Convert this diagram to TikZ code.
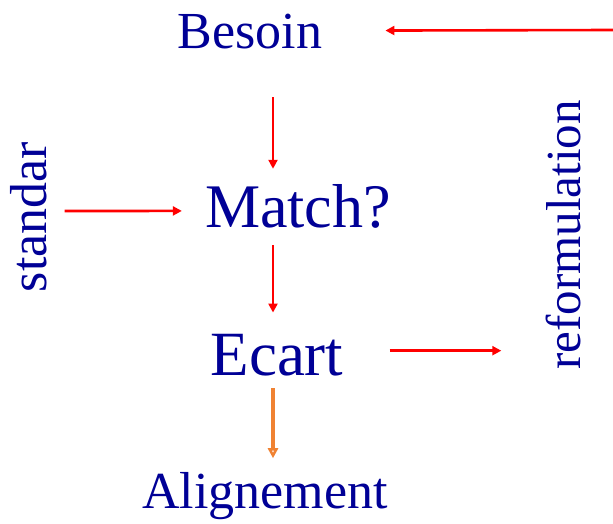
\documentclass[tikz,border=0pt]{standalone}
\usepackage{fontspec}
\setmainfont{Liberation Serif}
\usetikzlibrary{arrows.meta,calc}
\definecolor{navytext}{RGB}{0,0,150}
\definecolor{orangearrow}{RGB}{240,130,50}

\begin{document}
\begin{tikzpicture}[x=1pt, y=-1pt,
        word/.style={text=navytext, inner sep=0pt, anchor=base, font=\fontsize{52}{60}\selectfont},
        bigword/.style={word, font=\fontsize{62}{72}\selectfont},
        redarrow/.style={red, line width=2.6pt, -{Triangle[length=9pt,width=9pt]}},
        orangearr/.style={orangearrow, line width=3.4pt, -{Triangle[open,length=10pt,width=10pt]}}]
            \useasboundingbox (0,0) rectangle (613,524);
            \node[word] (besoin) at (250,49) {Besoin};
            \node[bigword] (match) at (298,227) {Match?};
            \node[bigword, font=\fontsize{63}{72}\selectfont] (ecart) at (277,375) {Ecart};
            \node[word] (align) at (265,508) {Alignement};
            \node[word, rotate=90] (standar) at (46,217) {standar};
            \node[word, rotate=90, font=\fontsize{49}{56}\selectfont] (reform) at (580,235) {reformulation};
            \coordinate (edge) at (613,30);
            \draw[redarrow] (edge) -- ($(besoin.east)+(63,-1.5)$);
            \draw[redarrow] ($(besoin.south)+(23,47.5)$) -- ($(match.north)+(-25,-15)$);
            \draw[redarrow] ($(standar.south)+(18,-6)$) -- ($(match.west)+(-23,5)$);
            \draw[redarrow] ($(match.south)+(-25,17)$) -- ($(ecart.north)+(-4,-21)$);
            \draw[redarrow] ($(ecart.east)+(46,-4)$) -- ($(reform.north |- ecart.east)+(-44,-4)$);
            \draw[orangearr] ($(ecart.south)+(-4,12.5)$) -- ($(align.north)+(8,-13.5)$);
        \end{tikzpicture}
\end{document}
